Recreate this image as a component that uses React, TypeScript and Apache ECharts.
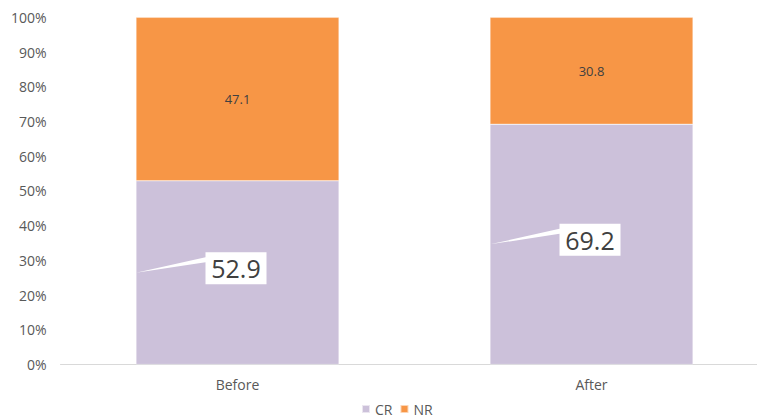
import React, { useEffect, useRef } from "react";
import * as echarts from "echarts";

const categories = ["Before", "After"];
const crValues = [52.9, 69.2];
const nrValues = [47.1, 30.8];
const yTicks = [0, 10, 20, 30, 40, 50, 60, 70, 80, 90, 100];

const CR_COLOR = "#CCC1DA";
const NR_COLOR = "#F79646";
const FONT = "'Open Sans', 'Noto Sans', sans-serif";

export default function App() {
  const ref = useRef<HTMLDivElement>(null);

  useEffect(() => {
    if (!ref.current) return;
    const chart = echarts.init(ref.current, undefined, { renderer: "svg" });
    const BAR_W = 203;
    const BOX_W = 61;
    const BOX_H = 32;

    chart.setOption({
      animation: false,
      backgroundColor: "#ffffff",
      textStyle: { fontFamily: FONT },
      grid: {
        left: 60.5,
        width: 708,
        top: 17.3,
        bottom: 55.5,
        containLabel: false,
        outerBoundsMode: "none",
      },
      legend: {
        data: ["CR", "NR"],
        left: 361,
        top: 401,
        padding: 0,
        itemWidth: 8,
        itemHeight: 8,
        itemGap: 7,
        icon: "rect",
        textStyle: { fontSize: 14, lineHeight: 16, color: "#595959", fontFamily: FONT, padding: [0, 0, 0, 0] },
      },
      xAxis: {
        type: "category",
        data: categories,
        axisLine: { lineStyle: { color: "#D9D9D9", width: 1 } },
        axisTick: { show: false },
        axisLabel: { color: "#595959", fontSize: 14, margin: 13, fontFamily: FONT },
      },
      yAxis: {
        type: "value",
        min: yTicks[0],
        max: yTicks[yTicks.length - 1],
        interval: yTicks[1] - yTicks[0],
        axisLine: { show: false },
        axisTick: { show: false },
        splitLine: { show: false },
        axisLabel: {
          color: "#595959",
          fontSize: 14,
          margin: 14,
          fontFamily: FONT,
          formatter: "{value}%",
        },
      },
      series: [
        {
          name: "CR",
          type: "bar",
          stack: "total",
          barWidth: BAR_W,
          data: crValues,
          itemStyle: { color: CR_COLOR, borderColor: "rgba(255,255,255,0.6)", borderWidth: 0.5 },
        },
        {
          name: "NR",
          type: "bar",
          stack: "total",
          barWidth: BAR_W,
          data: nrValues,
          itemStyle: { color: NR_COLOR, borderColor: "rgba(255,255,255,0.6)", borderWidth: 0.5 },
          label: {
            show: true,
            position: "inside",
            color: "#404040",
            fontSize: 13,
            fontFamily: FONT,
          },
        },
        {
          name: "CR callout",
          type: "custom",
          data: crValues.map((v, i) => [i, v]),
          encode: { x: 0, y: 1 },
          z: 10,
          silent: true,
          renderItem: (params: any, api: any) => {
            const idx = api.value(0);
            const val = api.value(1);
            const mid = api.coord([idx, val / 2]);
            const tipX = mid[0] - BAR_W / 2;
            const tipY = mid[1];
            const cx = mid[0] - 1.5;
            const cy = mid[1] - 4.5;
            const left = cx - BOX_W / 2;
            const right = cx + BOX_W / 2;
            const top = cy - BOX_H / 2;
            const bottom = cy + BOX_H / 2;
            return {
              type: "group",
              children: [
                {
                  type: "polygon",
                  shape: {
                    points: [
                      [left, top],
                      [right, top],
                      [right, bottom],
                      [left, bottom],
                      [left, top + 10],
                      [tipX, tipY],
                      [left, top + 5],
                    ],
                  },
                  style: { fill: "#ffffff", stroke: null },
                },
                {
                  type: "text",
                  x: cx,
                  y: cy,
                  style: {
                    text: String(val),
                    fill: "#404040",
                    fontSize: 25,
                    fontFamily: FONT,
                    align: "center",
                    verticalAlign: "middle",
                  },
                },
              ],
            };
          },
        },
      ],
    });

    return () => chart.dispose();
  }, []);

  return (
    <div
      ref={ref}
      style={{ position: "fixed", left: 0, top: 0, width: 757, height: 420, background: "#fff" }}
    />
  );
}
